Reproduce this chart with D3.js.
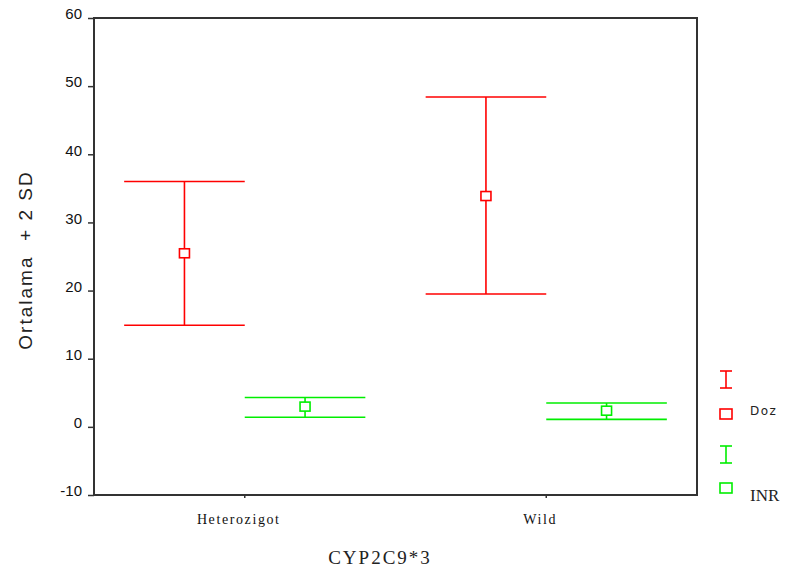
<!DOCTYPE html>
<html>
<head>
<meta charset="utf-8">
<script src="https://cdn.jsdelivr.net/npm/d3@7"></script>
<style>
  body { margin: 0; background: #fff; }
  svg { display: block; }
</style>
</head>
<body>
<div id="chart"></div>
<script>
var width = 792, height = 569;
var margin = {top: 18, right: 95, bottom: 74, left: 94};

// data
var groups = ['Heterozigot', 'Wild'];
var series = ['Doz', 'INR'];
var colours = ['#ff0000', '#00ee00'];
var dozMean = [25.4, 33.8];
var dozLow = [14.9, 19.5];
var dozHigh = [36.0, 48.4];
var inrMean = [2.9, 2.3];
var inrLow = [1.4, 1.1];
var inrHigh = [4.3, 3.5];
var yTicks = [-10, 0, 10, 20, 30, 40, 50, 60];

var rows = [];
groups.forEach((g, i) => {
    rows.push({group: g, series: 'Doz', mean: dozMean[i], low: dozLow[i], high: dozHigh[i]});
    rows.push({group: g, series: 'INR', mean: inrMean[i], low: inrLow[i], high: inrHigh[i]});
});

var svg = d3.select('#chart')
    .append('svg')
    .attr('width', width)
    .attr('height', height);

let x = d3.scaleBand()
    .domain(groups)
    .range([margin.left, width - margin.right]);

let xs = d3.scaleBand()
    .domain(series)
    .range([-x.bandwidth() * 0.4, x.bandwidth() * 0.4]);

let y = d3.scaleLinear()
    .domain([-10, 60])
    .range([height - margin.bottom, margin.top]);

let colour = d3.scaleOrdinal().domain(series).range(colours);

// frame
svg.append('rect')
    .attr('x', margin.left)
    .attr('y', margin.top)
    .attr('width', width - margin.left - margin.right)
    .attr('height', height - margin.top - margin.bottom)
    .attr('fill', 'none')
    .attr('stroke', '#333')
    .attr('stroke-width', 2);

// y axis
let yAxis = d3.axisLeft(y).tickValues(yTicks).tickSize(6).tickPadding(6)
    .tickFormat(d => String(d));
let yg = svg.append('g')
    .attr('transform', `translate(${margin.left}, 0)`)
    .call(yAxis);
yg.select('.domain').remove();
yg.selectAll('.tick line').attr('stroke', '#333').attr('stroke-width', 1.5);
yg.selectAll('.tick text')
    .attr('dy', '0.05em')
    .style('font-family', 'Liberation Sans, Arial, sans-serif')
    .style('font-size', '15px')
    .attr('fill', '#111');

// x axis
let xAxis = d3.axisBottom(x).tickSize(3).tickPadding(16);
let xg = svg.append('g')
    .attr('transform', `translate(0, ${height - margin.bottom})`)
    .call(xAxis);
xg.select('.domain').remove();
xg.selectAll('.tick line').attr('stroke', '#333').attr('stroke-width', 1.5);
xg.selectAll('.tick text')
    .attr('dx', '-6')
    .style('font-family', 'Liberation Serif, Times New Roman, serif')
    .style('font-size', '14px')
    .style('letter-spacing', '1.6px')
    .attr('fill', '#111');

// axis titles
svg.append('text')
    .attr('x', 380)
    .attr('y', 564)
    .attr('text-anchor', 'middle')
    .style('font-family', 'Liberation Serif, Times New Roman, serif')
    .style('font-size', '19px')
    .style('letter-spacing', '2px')
    .attr('fill', '#222')
    .text('CYP2C9*3');

svg.append('text')
    .attr('transform', 'translate(32, 260) rotate(-90)')
    .attr('text-anchor', 'middle')
    .style('font-family', 'Liberation Sans, Arial, sans-serif')
    .style('font-size', '19px')
    .style('letter-spacing', '2px')
    .style('white-space', 'pre')
    .attr('fill', '#222')
    .text('Ortalama  + 2 SD');

// error bars
let cx = d => x(d.group) + x.bandwidth() / 2 + xs(d.series) + xs.bandwidth() / 2;
let bars = svg.append('g').selectAll('g.err')
    .data(rows)
    .enter()
    .append('g')
    .attr('class', 'err')
    .attr('stroke', d => colour(d.series))
    .attr('stroke-width', 1.6)
    .attr('fill', 'none');

bars.append('line')
    .attr('x1', cx).attr('x2', cx)
    .attr('y1', d => y(d.low)).attr('y2', d => y(d.high));
bars.append('line')
    .attr('x1', d => cx(d) - xs.bandwidth() / 2).attr('x2', d => cx(d) + xs.bandwidth() / 2)
    .attr('y1', d => y(d.high)).attr('y2', d => y(d.high));
bars.append('line')
    .attr('x1', d => cx(d) - xs.bandwidth() / 2).attr('x2', d => cx(d) + xs.bandwidth() / 2)
    .attr('y1', d => y(d.low)).attr('y2', d => y(d.low));
bars.append('rect')
    .attr('x', d => cx(d) - 5)
    .attr('y', d => y(d.mean) - 5)
    .attr('width', 10)
    .attr('height', 9)
    .attr('fill', '#fff');

// legend
let legend = svg.append('g').attr('transform', 'translate(726, 0)');
let legendRows = [
    {series: 'Doz', top: 371, box: 414, label: 'Doz', labelY: 415, font: 'DejaVu Sans, sans-serif', size: '12px', spacing: '1.5px'},
    {series: 'INR', top: 446, box: 488, label: 'INR', labelY: 501, font: 'Liberation Serif, Times New Roman, serif', size: '17px', spacing: '0px'}
];
legendRows.forEach(r => {
    let g = legend.append('g')
        .attr('stroke', colour(r.series))
        .attr('stroke-width', 1.6)
        .attr('fill', 'none');
    g.append('line').attr('x1', 0).attr('x2', 0).attr('y1', r.top).attr('y2', r.top + 17);
    g.append('line').attr('x1', -6).attr('x2', 6).attr('y1', r.top).attr('y2', r.top);
    g.append('line').attr('x1', -6).attr('x2', 6).attr('y1', r.top + 17).attr('y2', r.top + 17);
    g.append('rect').attr('x', -6).attr('y', r.box - 5).attr('width', 12).attr('height', 10);
    legend.append('text')
        .attr('x', 24)
        .attr('y', r.labelY)
        .style('font-family', r.font)
        .style('font-size', r.size)
        .style('letter-spacing', r.spacing)
        .attr('fill', '#222')
        .text(r.label);
});
</script>
</body>
</html>
